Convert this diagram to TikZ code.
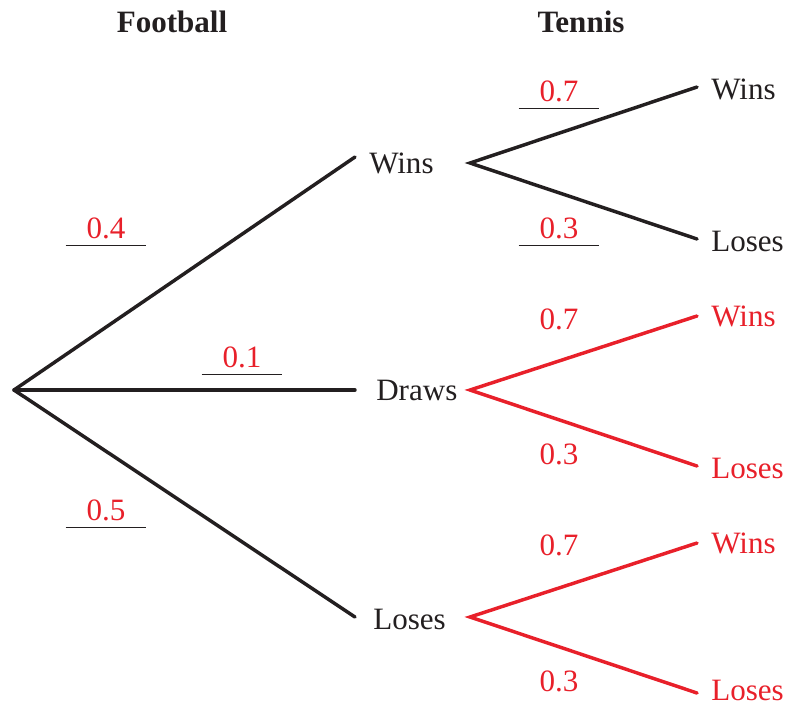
\documentclass[tikz,border=0pt]{standalone}
\usepackage{fontspec}
\setmainfont{Liberation Serif}

\definecolor{tdink}{HTML}{231F20}
\definecolor{tdred}{HTML}{E8202A}

\begin{document}
\begin{tikzpicture}[
  x=0.75pt, y=-0.75pt,
  font=\fontsize{23.3}{28}\selectfont,
  branch/.style={line width=2.6pt, line cap=round},
  word/.style={anchor=west, inner sep=0pt, text=tdink},
  prob/.style={inner xsep=0pt, inner ysep=5pt, minimum width=60pt, text=tdred},
  uline/.style={tdink, line width=0.6pt},
]
\useasboundingbox (0,0) rectangle (787,707);

% headings
\node[font=\fontsize{23.3}{28}\selectfont\bfseries, text=tdink] (hfoot) at (172, 22) {Football};
\node[font=\fontsize{23.3}{28}\selectfont\bfseries, text=tdink] (hten) at (581, 22) {Tennis};

% football branches
\coordinate (root) at (14, 390);
\coordinate (fW) at (355, 157);
\coordinate (fD) at (355, 390);
\coordinate (fL) at (355, 617);

\node[word] (fwins) at (369, 163) {Wins};
\node[word] (fdraws) at (376, 390) {Draws};
\node[word] (floses) at (373, 619) {Loses};

\draw[branch, tdink] (root) -- (fW);
\draw[branch, tdink] (root) -- (fD);
\draw[branch, tdink] (root) -- (fL);

\node[prob] (p04) at (106, 228) {0.4};
\node[prob] (p01) at (242, 357) {0.1};
\node[prob] (p05) at (106, 510) {0.5};
\draw[uline] (p04.south west) -- (p04.south east);
\draw[uline] (p01.south west) -- (p01.south east);
\draw[uline] (p05.south west) -- (p05.south east);

% tennis after a football win
\coordinate (tW) at (470, 163);
\coordinate (tWw) at (697, 87);
\coordinate (tWl) at (697, 239);
\draw[branch, tdink] (tWw) -- (tW) -- (tWl);
\node[word] (wwins) at (711, 89) {Wins};
\node[word] (wloses) at (711, 241) {Loses};
\node[prob] (pw7) at (559, 91) {0.7};
\node[prob] (pw3) at (559, 228) {0.3};
\draw[uline] (pw7.south west) -- (pw7.south east);
\draw[uline] (pw3.south west) -- (pw3.south east);

% tennis after a football draw
\coordinate (tD) at (470, 390);
\coordinate (tDw) at (697, 316);
\coordinate (tDl) at (697, 466);
\draw[branch, tdred] (tDw) -- (tD) -- (tDl);
\node[word, text=tdred] (dwins) at (711, 316) {Wins};
\node[word, text=tdred] (dloses) at (711, 468) {Loses};
\node[prob] (pd7) at (559, 319) {0.7};
\node[prob] (pd3) at (559, 454) {0.3};

% tennis after a football loss
\coordinate (tL) at (470, 617);
\coordinate (tLw) at (697, 543);
\coordinate (tLl) at (697, 693);
\draw[branch, tdred] (tLw) -- (tL) -- (tLl);
\node[word, text=tdred] (lwins) at (711, 543) {Wins};
\node[word, text=tdred] (lloses) at (711, 690) {Loses};
\node[prob] (pl7) at (559, 545) {0.7};
\node[prob] (pl3) at (559, 681) {0.3};

\end{tikzpicture}
\end{document}
